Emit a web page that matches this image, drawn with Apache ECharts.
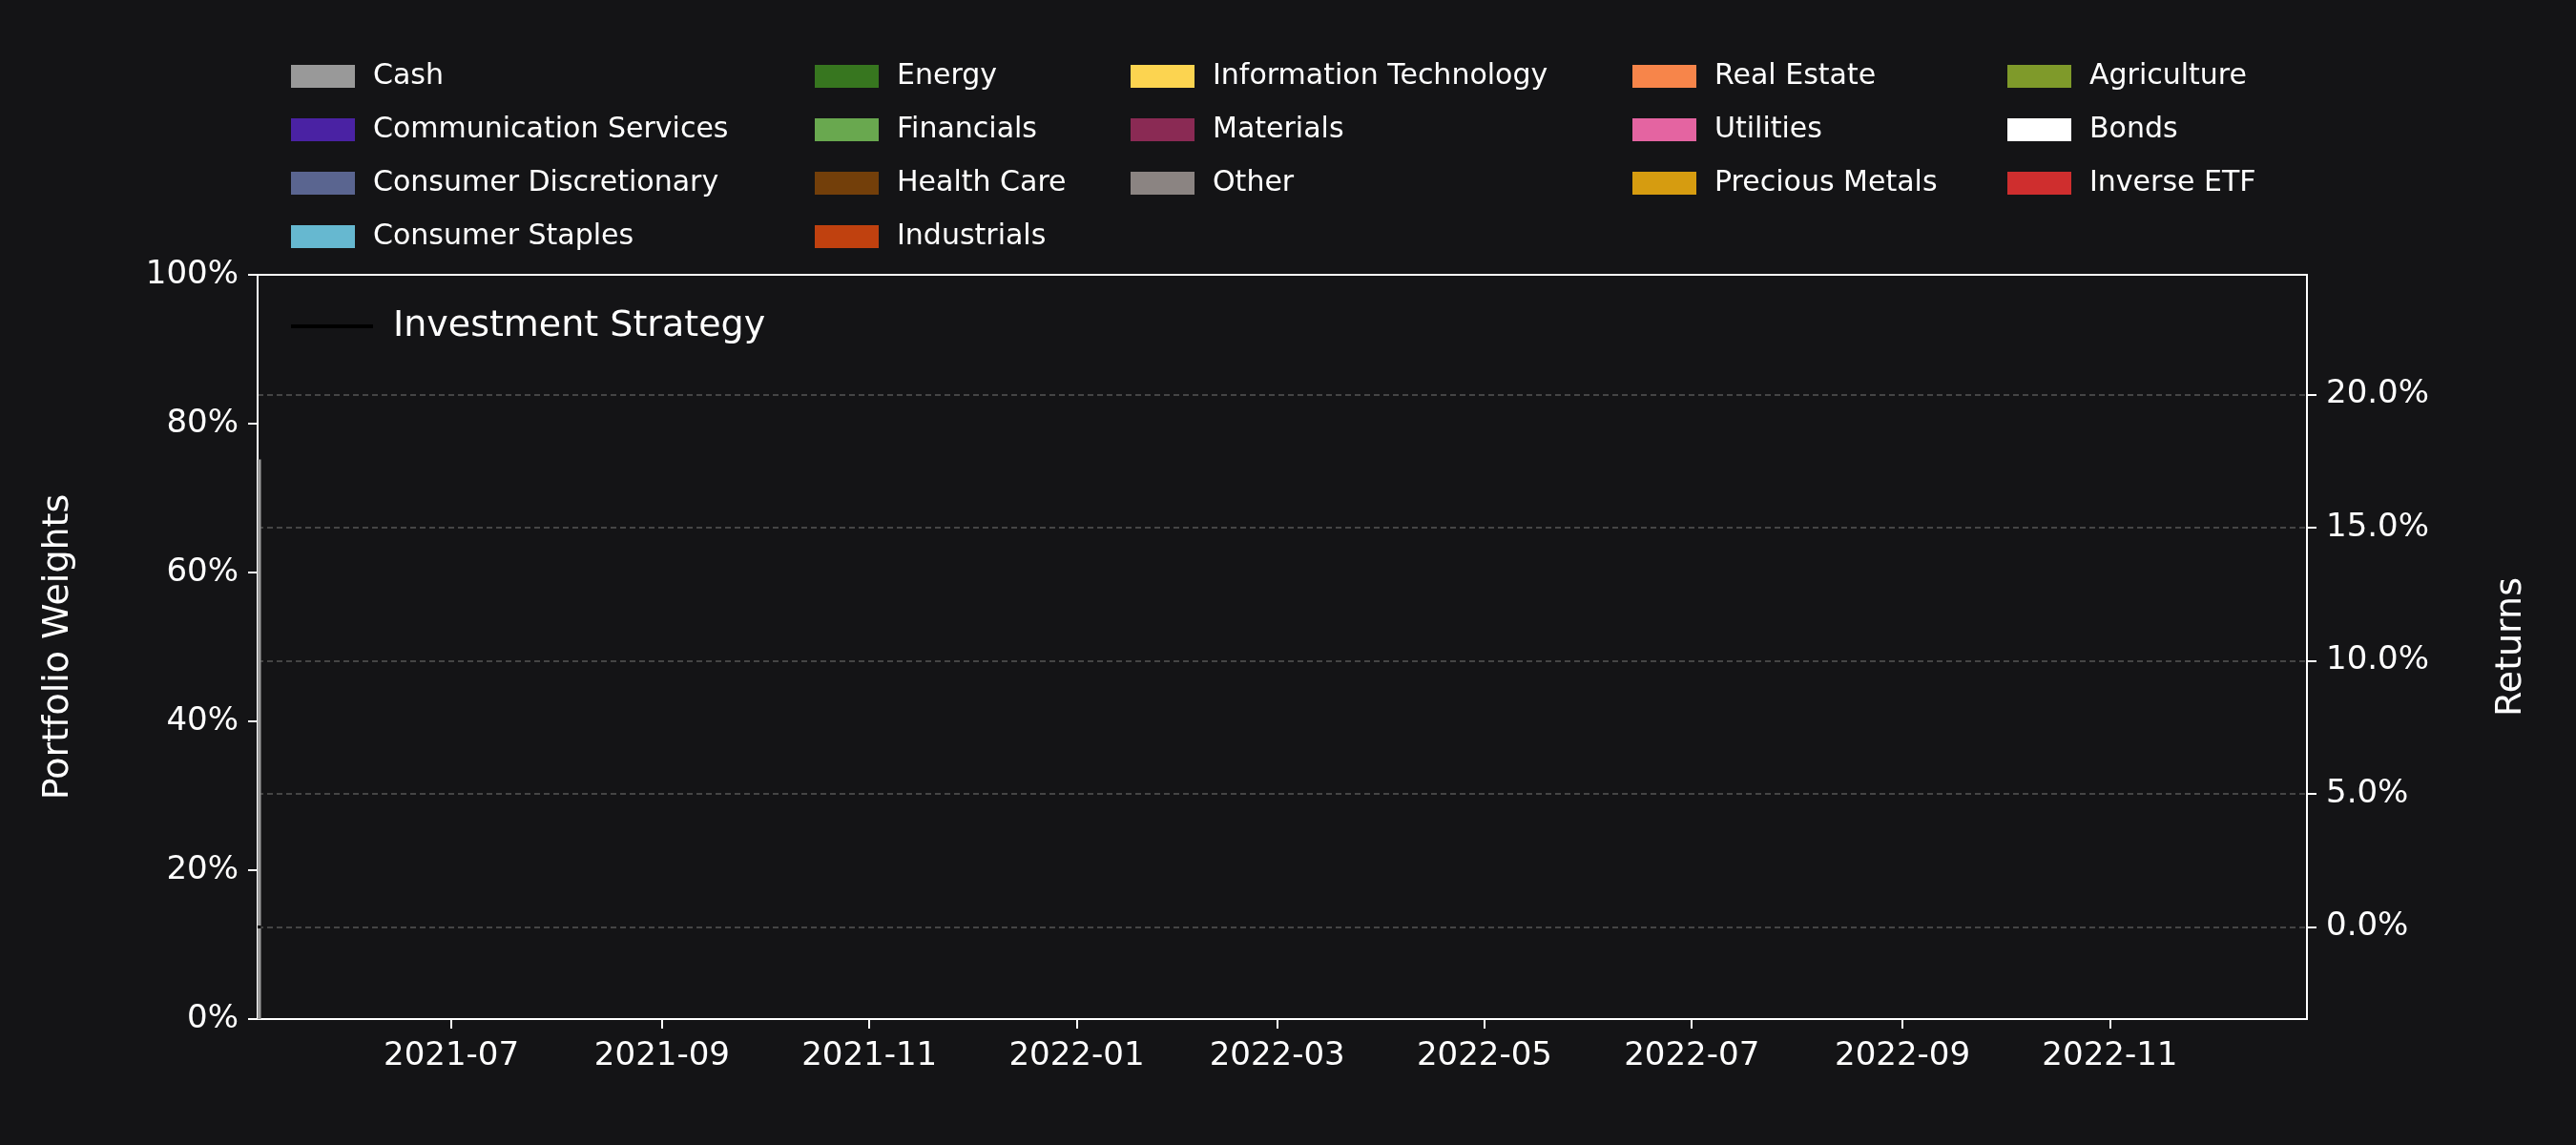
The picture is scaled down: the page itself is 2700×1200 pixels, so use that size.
<!DOCTYPE html>
<html><head><meta charset="utf-8">
<script src="https://cdn.jsdelivr.net/npm/echarts@6/dist/echarts.min.js"></script>
<style>html,body{margin:0;background:#141416}#c{width:2700px;height:1200px}</style>
</head><body><div id="c"></div>
<script>
// sector weights only exist at the very start of the window
const dates = ["2021-05-05", "2021-05-06"];
const sectors = ["Cash", "Communication Services", "Consumer Discretionary", "Consumer Staples",
  "Energy", "Financials", "Health Care", "Industrials", "Information Technology", "Materials",
  "Other", "Real Estate", "Utilities", "Precious Metals", "Agriculture", "Bonds", "Inverse ETF"];
const colors = ["#999999", "#4a22a3", "#5a6590", "#66b8d0", "#37761f", "#69a84f", "#733f0a",
  "#c0410f", "#fcd450", "#8a2a54", "#8b8482", "#f7854a", "#e464a1", "#d69c10", "#7f9a2a",
  "#ffffff", "#cf2e2e"];
const weights = [75.2, 1, 6.5, 0, 1, 2.3, 4, 3, 4, 3, 0, 0, 0, 0, 0, 0, 0];
const strategyReturns = [0, 0];
const xTicks = ["2021-07-01", "2021-09-01", "2021-11-01", "2022-01-01", "2022-03-01",
  "2022-05-01", "2022-07-01", "2022-09-01", "2022-11-01"];
const returnTicks = [0, 5, 10, 15, 20];

const ts = d => Date.UTC(+d.slice(0, 4), +d.slice(5, 7) - 1, +d.slice(8, 10));
const chart = echarts.init(document.getElementById("c"));
const font = "DejaVu Sans";
const legendCols = [[0, 4], [4, 8], [8, 11], [11, 14], [14, 17]];
const legendX = [300, 849, 1180, 1706, 2099];

const legends = legendCols.map((r, i) => ({
  orient: "vertical", left: legendX[i], top: 60,
  itemWidth: 67, itemHeight: 24, itemGap: 26, icon: "rect",
  textStyle: { color: "#fff", fontSize: 30, fontFamily: font, padding: [0, 0, 0, 14] },
  data: sectors.slice(r[0], r[1])
}));
legends.push({
  left: 300, top: 318, itemWidth: 86, itemHeight: 4, icon: "rect",
  textStyle: { color: "#fff", fontSize: 38, fontFamily: font, padding: [0, 0, 0, 16] },
  data: ["Investment Strategy"]
});

const series = sectors.map((s, i) => ({
  name: s, type: "line", stack: "w", yAxisIndex: 0, symbol: "none",
  lineStyle: { width: 0 }, areaStyle: { color: colors[i], opacity: 1 },
  itemStyle: { color: colors[i] },
  data: dates.map(d => [ts(d), weights[i]])
}));
series.push({
  name: "Investment Strategy", type: "line", yAxisIndex: 1, symbol: "none",
  lineStyle: { color: "#000", width: 3 }, itemStyle: { color: "#000" },
  data: dates.map((d, i) => [ts(d), strategyReturns[i]])
});

chart.setOption({
  backgroundColor: "#141416",
  animation: false,
  legend: legends,
  grid: { left: 270, right: 282, top: 288, bottom: 132, show: true,
    borderColor: "#fff", borderWidth: 2, backgroundColor: "transparent" },
  xAxis: {
    type: "value", min: ts("2021-05-05"), max: ts("2022-12-29"),
    axisLine: { lineStyle: { color: "#fff", width: 2 } },
    axisTick: { length: 10, lineStyle: { color: "#fff", width: 2 },
      customValues: xTicks.map(ts) },
    axisLabel: { color: "#fff", fontSize: 34, fontFamily: font, margin: 22,
      customValues: xTicks.map(ts),
      formatter: v => { const d = new Date(v); return d.getUTCFullYear() + "-" + String(d.getUTCMonth() + 1).padStart(2, "0"); } },
    splitLine: { show: false }
  },
  yAxis: [{
    type: "value", min: 0, max: 100, interval: 20, position: "left",
    name: "Portfolio Weights", nameLocation: "middle", nameGap: 190,
    nameTextStyle: { color: "#fff", fontSize: 38, fontFamily: font },
    axisLine: { show: true, lineStyle: { color: "#fff", width: 2 } },
    axisTick: { show: true, length: 10, lineStyle: { color: "#fff", width: 2 } },
    axisLabel: { color: "#fff", fontSize: 34, fontFamily: font, margin: 20, formatter: "{value}%" },
    splitLine: { show: false }
  }, {
    type: "value", min: -3.46, max: 24.5, position: "right",
    name: "Returns", nameLocation: "middle", nameGap: 195, nameRotate: 90,
    nameTextStyle: { color: "#fff", fontSize: 38, fontFamily: font },
    axisLine: { show: true, lineStyle: { color: "#fff", width: 2 } },
    axisTick: { show: true, length: 10, lineStyle: { color: "#fff", width: 2 }, customValues: returnTicks },
    axisLabel: { color: "#fff", fontSize: 34, fontFamily: font, margin: 20,
      customValues: returnTicks, formatter: v => v.toFixed(1) + "%" },
    splitLine: { show: true, lineStyle: { color: "#555", type: [6, 4], width: 1.5 } }
  }],
  series: series
});
</script></body></html>
